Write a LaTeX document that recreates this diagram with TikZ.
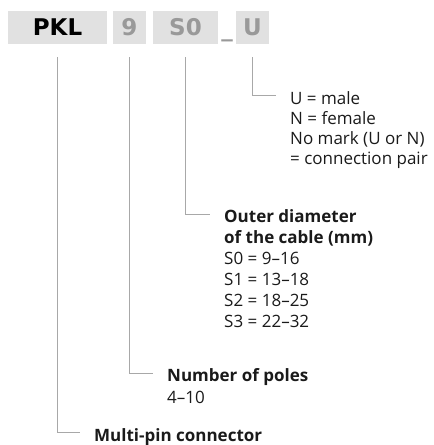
\documentclass[tikz,border=0pt]{standalone}
\usepackage{fontspec}
\setmainfont{Open Sans}
\newfontfamily\codefont{DejaVu Sans}
\usepackage{tikz}
\usetikzlibrary{positioning}
\definecolor{boxgray}{HTML}{E1E1E1}
\definecolor{codegray}{HTML}{999999}
\definecolor{leadgray}{HTML}{A8A8A8}
\definecolor{inkcol}{HTML}{1A1A1A}

\begin{document}
\begin{tikzpicture}[x=1pt, y=-1pt,
    codebox/.style={fill=boxgray, inner sep=0, minimum height=33pt, text height=16.8pt, text depth=0pt,
      font=\codefont\bfseries\fontsize{23}{23}\selectfont, text=codegray},
    leader/.style={draw=leadgray, line width=0.9pt, shorten <=13pt, shorten >=14pt},
    txt/.style={inner sep=0, anchor=base west, text=inkcol, font=\fontsize{17}{20}\selectfont},
    head/.style={txt, anchor=west, text height=17pt, text depth=0pt}]
      \useasboundingbox (0,0) rectangle (434,445);
      \node[codebox, minimum width=99pt, text=black] (pkl) at (57.5,27.5) {PKL};
      \node[codebox, minimum width=33pt] (poles) at (129.5,27.5) {9};
      \node[codebox, minimum width=65pt] (cable) at (185.5,27.5) {S0};
      \node[inner sep=0, anchor=base, text=codegray, font=\codefont\bfseries\fontsize{23}{23}\selectfont] (sep) at (227,36) {\_};
      \node[codebox, minimum width=33pt] (gender) at (252.5,27.5) {U};
%      
      \node[head] (male) at (290,95.5) {U = male};
      \foreach \t [count=\i] in {N = female, No mark (U or N), = connection pair}
        \node[txt] (male\i) at (290,104+\i*20) {\t};
      \node[head, font=\bfseries\fontsize{17}{20}\selectfont] (diam) at (224,214) {Outer diameter};
      \foreach \t [count=\i] in {\textbf{of the cable (mm)}, S0 = 9--16, S1 = 13--18, S2 = 18--25, S3 = 22--32}
        \node[txt] (diam\i) at (224,222.5+\i*20.9) {\t};
      \node[head, font=\bfseries\fontsize{17}{20}\selectfont] (num) at (167,373) {Number of poles};
      \node[txt] (num1) at (167,403.5) {4--10};
      \node[head, font=\bfseries\fontsize{17}{20}\selectfont] (multi) at (94,432.5) {Multi-pin connector};
%      
      \draw[leader] (gender.south) |- (male.west);
      \draw[leader] (cable.south) |- (diam.west);
      \draw[leader] (poles.south) |- (num.west);
      \draw[leader] (pkl.south) |- (multi.west);
    \end{tikzpicture}
\end{document}
